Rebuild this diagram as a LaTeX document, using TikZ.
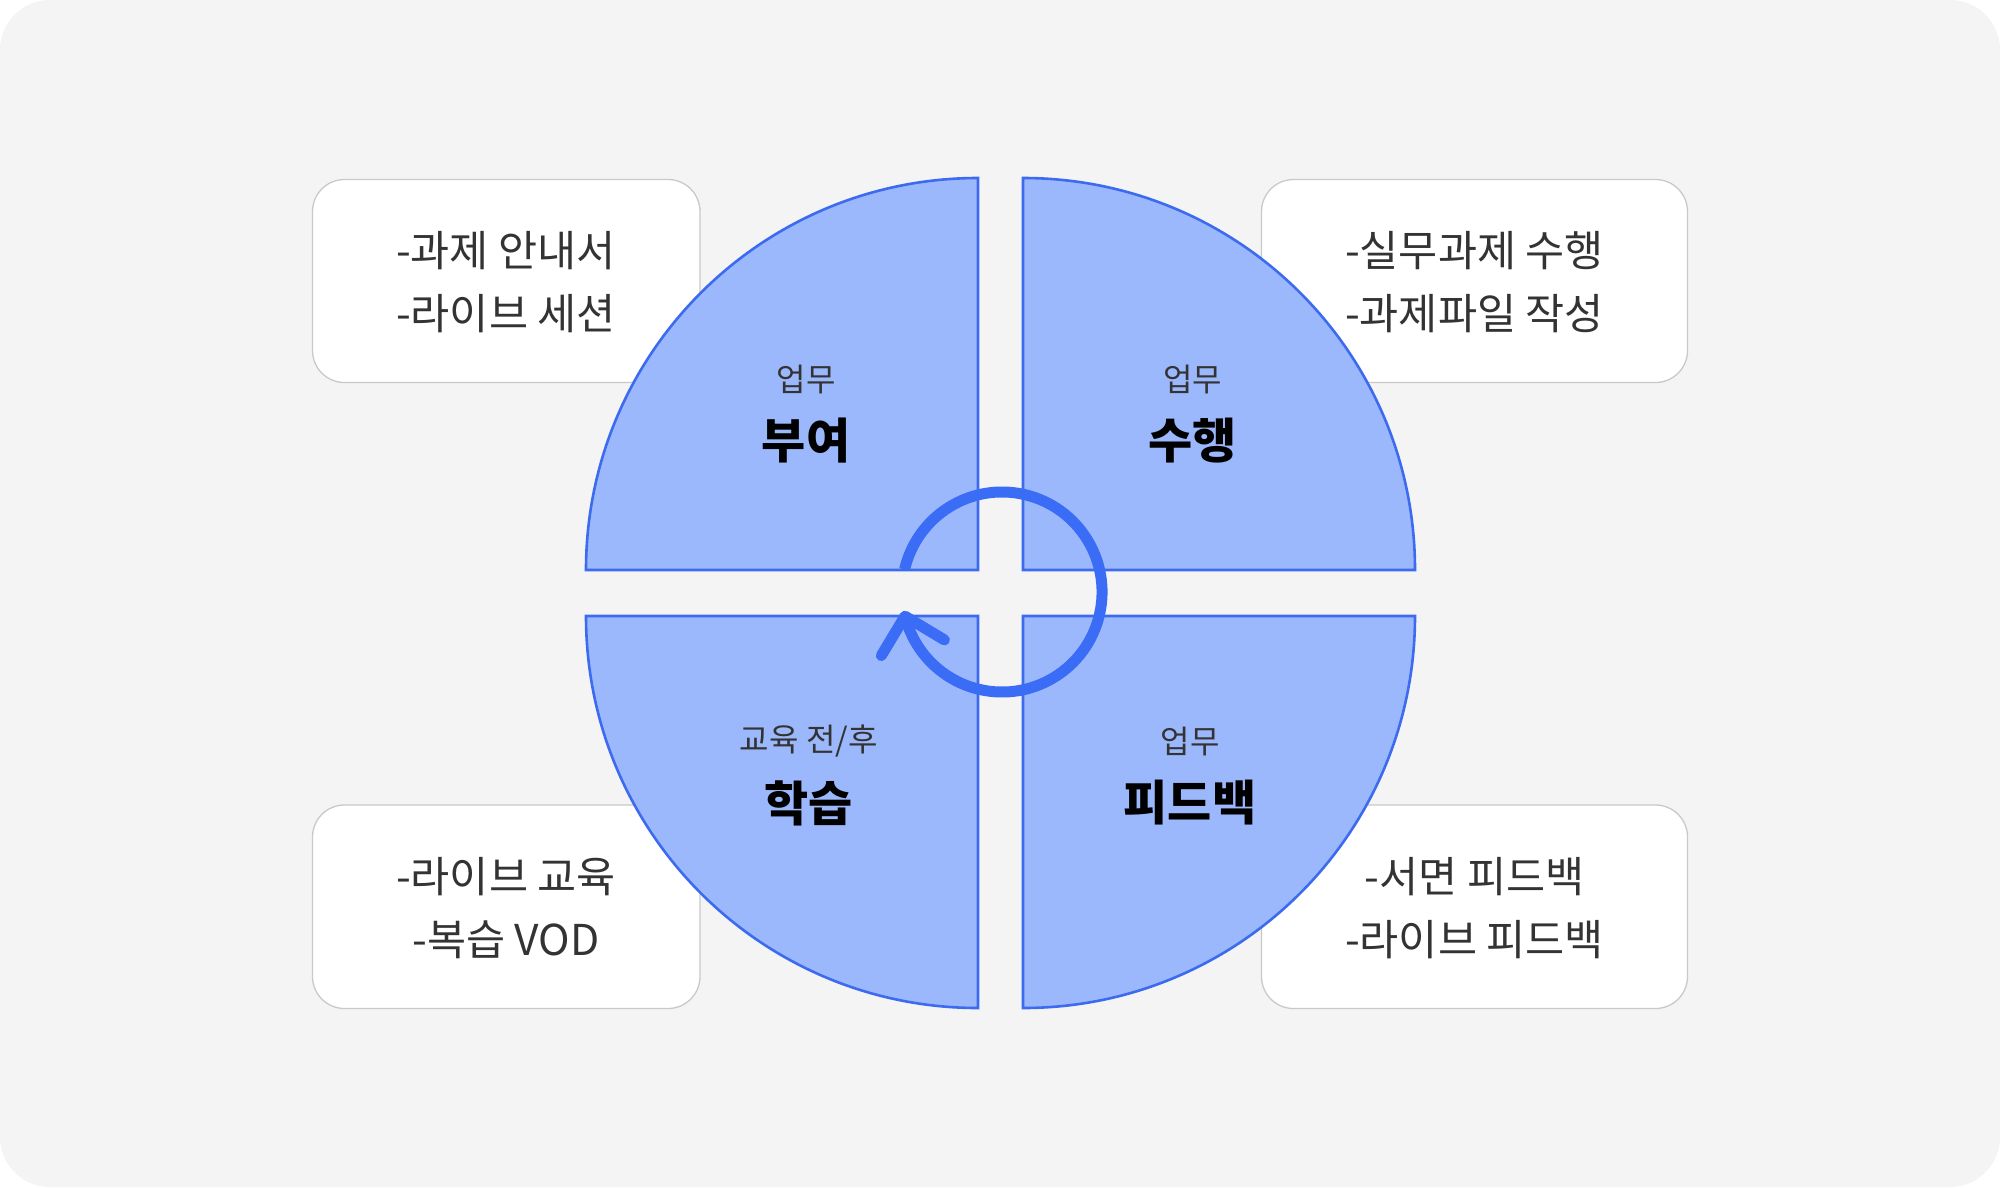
\documentclass[tikz,border=0pt]{standalone}
\usepackage{fontspec}
\newfontfamily\kr{Noto Sans CJK KR}
\definecolor{bg}{HTML}{F4F4F4}
\definecolor{qfill}{HTML}{9CB8FC}
\definecolor{qline}{HTML}{3D6BF0}
\definecolor{arrowc}{HTML}{3A6CF5}
\definecolor{boxline}{HTML}{C9C9C9}
\definecolor{txt}{HTML}{333333}
\begin{document}
\begin{tikzpicture}[x=1pt,y=-1pt,
  quad/.style={fill=qfill, draw=qline, line width=2.6pt},
  infobox/.style={draw=boxline, fill=white, line width=1.3pt, rounded corners=32pt},
  boxtext/.style={font=\kr\fontsize{42.5}{63}\selectfont, text=txt, align=center, inner sep=0pt},
  smalllab/.style={font=\kr\fontsize{32}{36}\selectfont, text=txt, inner sep=0pt},
  biglab/.style={font=\kr\bfseries\fontsize{48}{56}\selectfont, text=black, inner sep=0pt},
  cyc/.style={draw=arrowc, line width=11pt, line cap=round, line join=round}]
\useasboundingbox (0,0) rectangle (2000,1187);
\fill[white] (0,0) rectangle (2000,1187);
\fill[bg, rounded corners=50pt] (0,0) rectangle (2000,1187);
% info boxes
\draw[infobox] (312.5,179.5) rectangle (700,382.5);
\draw[infobox] (1261.5,179.5) rectangle (1687.5,382.5);
\draw[infobox] (312.5,805) rectangle (700,1008.5);
\draw[infobox] (1261.5,805) rectangle (1687.5,1008.5);
% quadrants
\draw[quad] (978,570) -- (586,570) arc[start angle=180,end angle=90,radius=392pt] -- cycle;
\draw[quad] (1023,570) -- (1023,178) arc[start angle=90,end angle=0,radius=392pt] -- cycle;
\draw[quad] (978,616) -- (978,1008) arc[start angle=270,end angle=180,radius=392pt] -- cycle;
\draw[quad] (1023,616) -- (1415,616) arc[start angle=0,end angle=-90,radius=392pt] -- cycle;
% cycle arrow
\draw[cyc, line cap=butt] (904.6,569.5) arc[start angle=167,end angle=-166,radius=100pt];
\coordinate (tip) at (905,616.2);
\coordinate (armA) at (881.3,655.6);
\coordinate (armB) at (944.4,639.9);
\draw[cyc] (armA) -- (tip) -- (armB);
% box texts
\node[boxtext] (t1) at (506,282) {-과제 안내서\\-라이브 세션};
\node[boxtext] (t2) at (1474.5,282) {-실무과제 수행\\-과제파일 작성};
\node[boxtext] (t3) at (506,908.5) {-라이브 교육\\-복습 VOD};
\node[boxtext] (t4) at (1474.5,908.5) {-서면 피드백\\-라이브 피드백};
% quadrant labels
\node[smalllab] (s1) at (806,379) {업무};
\node[biglab] (b1) at (806,441) {부여};
\node[smalllab] (s2) at (1192.6,379) {업무};
\node[biglab] (b2) at (1192.6,441) {수행};
\node[smalllab] (s3) at (808.7,741) {교육 전/후};
\node[biglab] (b3) at (808.7,803) {학습};
\node[smalllab] (s4) at (1190,741) {업무};
\node[biglab] (b4) at (1190,803) {피드백};
\end{tikzpicture}
\end{document}
